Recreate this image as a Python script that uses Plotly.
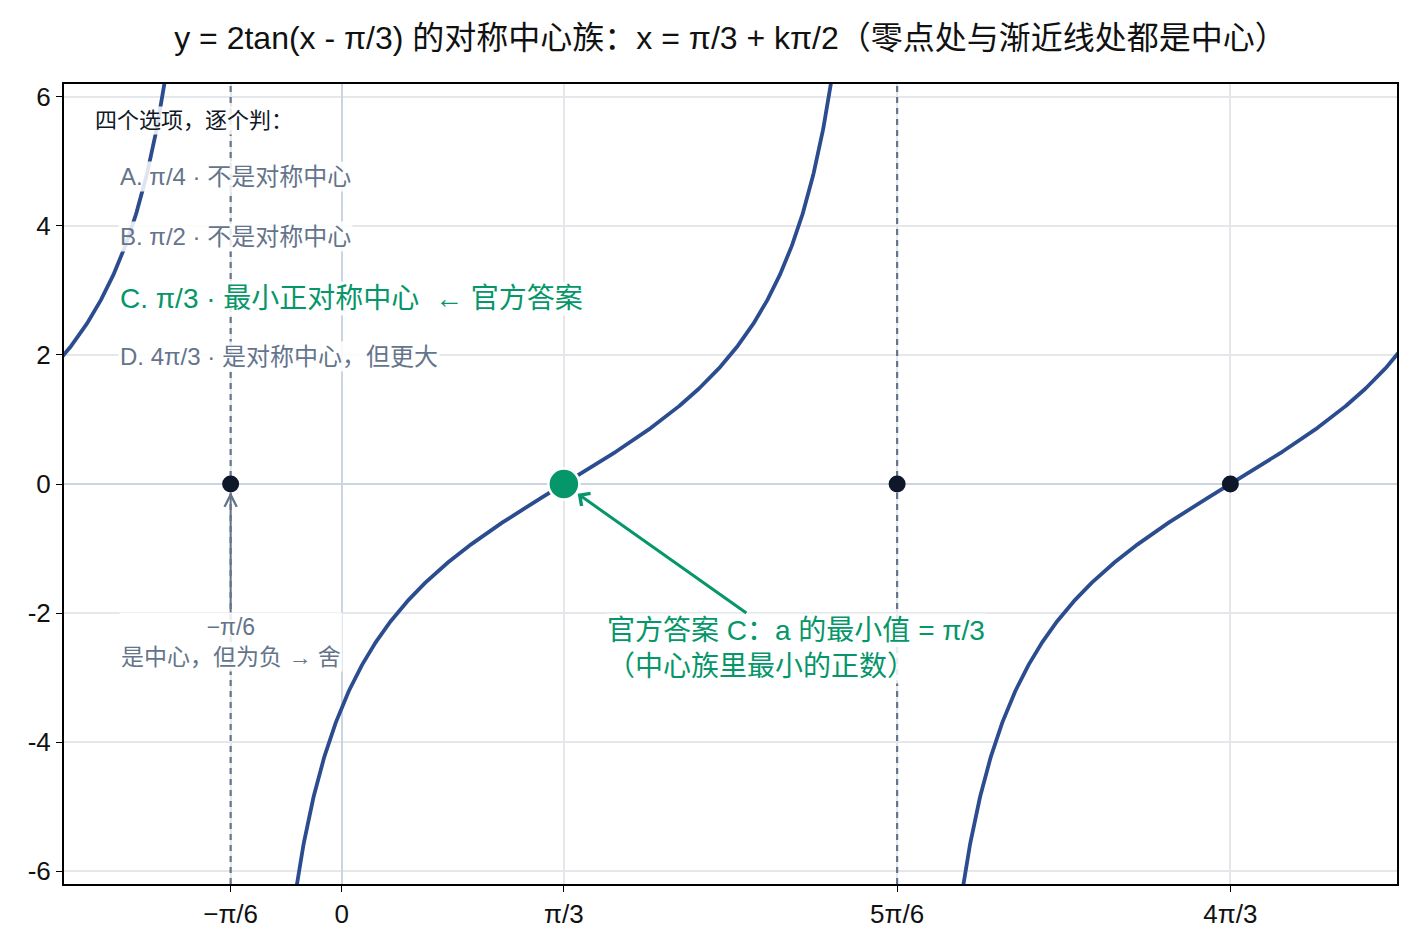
import numpy as np
import plotly.graph_objects as go

PI = np.pi
# function parameters: y = A * tan(x - phi)
amp = 2.0
phi = PI / 3

# x range and ticks
x_range = [-5 * PI / 12, 19 * PI / 12]
y_range = [-6.2, 6.2]
x_tick_vals = [-PI / 6, 0, PI / 3, 5 * PI / 6, 4 * PI / 3]
x_tick_text = ["−π/6", "0", "π/3", "5π/6", "4π/3"]
y_tick_vals = [-6, -4, -2, 0, 2, 4, 6]
y_tick_text = ["-6", "-4", "-2", "0", "2", "4", "6"]

# symmetry centers shown
centers_x = [-PI / 6, 5 * PI / 6, 4 * PI / 3]
centers_y = [0, 0, 0]
answer_x = [PI / 3]
answer_y = [0]
asymptotes = [-PI / 6, 5 * PI / 6]

option_texts = [
    "四个选项，逐个判：",
    "A. π/4 · 不是对称中心",
    "B. π/2 · 不是对称中心",
    "C. π/3 · 最小正对称中心  ← 官方答案",
    "D. 4π/3 · 是对称中心，但更大",
]
option_y = [5.63, 4.76, 3.83, 2.87, 1.97]

CURVE = "#2b4c8e"
GREEN = "#059669"
GRAY = "#64748b"
DARK = "#111827"
FONT = "Liberation Sans, Arial, Noto Sans CJK SC, sans-serif"

option_style = [
    (DARK, 22, 0.0218),
    (GRAY, 24, 0.0405),
    (GRAY, 24, 0.0405),
    (GREEN, 28, 0.0405),
    (GRAY, 24, 0.0405),
]

# build the tan curve branch by branch, breaking at asymptotes
xs, ys = [], []
branches = [(-PI / 6 - PI, -PI / 6), (-PI / 6, 5 * PI / 6), (5 * PI / 6, 5 * PI / 6 + PI)]
for a, b in branches:
    t = np.linspace(a + 0.02, b - 0.02, 800)
    v = amp * np.tan(t - phi)
    m = (t >= x_range[0] - 0.05) & (t <= x_range[1] + 0.05) & (np.abs(v) < 30)
    xs += list(t[m]) + [None]
    ys += list(v[m]) + [None]

fig = go.Figure()
fig.add_trace(go.Scatter(x=xs, y=ys, mode="lines",
                         line=dict(color=CURVE, width=3.8), hoverinfo="skip",
                         showlegend=False))
for xa in asymptotes:
    fig.add_trace(go.Scatter(x=[xa, xa], y=y_range, mode="lines",
                             line=dict(color=GRAY, width=2.2, dash="6px,5px"),
                             hoverinfo="skip", showlegend=False, cliponaxis=True))
fig.add_trace(go.Scatter(x=centers_x, y=centers_y, mode="markers",
                         marker=dict(color="#0f172a", size=17), showlegend=False))
fig.add_trace(go.Scatter(x=answer_x, y=answer_y, mode="markers",
                         marker=dict(color=GREEN, size=31, line=dict(color="white", width=2.5)),
                         showlegend=False))

for text, (color, size, xp), yv in zip(option_texts, option_style, option_y):
    fig.add_annotation(x=xp, xref="paper", y=yv, yref="y", text=text, showarrow=False,
                       xanchor="left", yanchor="middle",
                       font=dict(size=size, color=color, family=FONT),
                       bgcolor="rgba(255,255,255,0.85)")

fig.add_annotation(x=-PI / 6, y=0, text="−π/6<br>是中心，但为负 → 舍",
                   showarrow=True, arrowhead=5, arrowsize=1.2, arrowwidth=2,
                   arrowcolor=GRAY, ax=0, ay=158, standoff=8,
                   font=dict(size=23, color=GRAY, family=FONT),
                   bgcolor="rgba(255,255,255,0.85)")

fig.add_annotation(x=PI / 3, y=0, text="官方答案 C：a 的最小值 = π/3<br>（中心族里最小的正数）",
                   showarrow=True, arrowhead=4, arrowsize=1, arrowwidth=3,
                   arrowcolor=GREEN, ax=232, ay=164, standoff=17, align="left",
                   font=dict(size=28, color=GREEN, family=FONT),
                   bgcolor="rgba(255,255,255,0.85)")

fig.update_layout(
    width=1417, height=950,
    margin=dict(l=64, r=20, t=84, b=66),
    paper_bgcolor="white", plot_bgcolor="white",
    font=dict(family=FONT, size=26, color="#111111"),
    title=dict(text="y = 2tan(x - π/3) 的对称中心族：x = π/3 + kπ/2（零点处与渐近线处都是中心）",
               x=0.5, xref="paper", xanchor="center", y=0.96, yanchor="middle",
               font=dict(size=32, color="#111111", family=FONT)),
    showlegend=False,
)
fig.update_xaxes(range=x_range, tickvals=x_tick_vals, ticktext=x_tick_text,
                 showgrid=True, gridcolor="#e5e7eb", gridwidth=1.5,
                 zeroline=True, zerolinecolor="#cbd5e1", zerolinewidth=1.5,
                 showline=True, linecolor="black", linewidth=2, mirror=True,
                 ticks="outside", ticklen=6, tickcolor="black",
                 tickfont=dict(size=26, family=FONT, color="#111111"))
fig.update_yaxes(range=y_range, tickvals=y_tick_vals, ticktext=y_tick_text,
                 showgrid=True, gridcolor="#e5e7eb", gridwidth=1.5,
                 zeroline=True, zerolinecolor="#cbd5e1", zerolinewidth=1.5,
                 showline=True, linecolor="black", linewidth=2, mirror=True,
                 ticks="outside", ticklen=6, tickcolor="black",
                 tickfont=dict(size=26, family=FONT, color="#111111"))

fig.write_html("out.html")
